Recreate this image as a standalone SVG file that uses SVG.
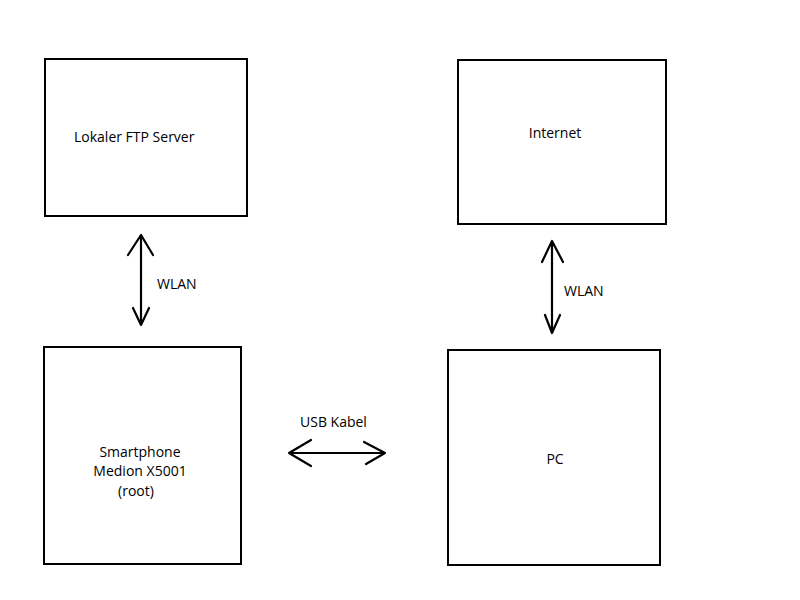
<svg xmlns="http://www.w3.org/2000/svg" width="800" height="600" viewBox="0 0 800 600">
<style>
.box{fill:#fff;stroke:#000;stroke-width:2}
.t{font-family:"Open Sans","Liberation Sans",sans-serif;font-size:14px;fill:#000}
.c{text-anchor:middle}
.ar{fill:none;stroke:#000;stroke-width:2.2;stroke-linecap:round;stroke-linejoin:round}
</style>
<rect width="800" height="600" fill="#fff"/>
<g id="ftp"><rect class="box" x="45" y="59" width="202" height="157"/><text class="t" x="74" y="142">Lokaler FTP Server</text></g>
<g id="internet"><rect class="box" x="458" y="60" width="208" height="164"/><text class="t c" x="555" y="138">Internet</text></g>
<g id="smartphone"><rect class="box" x="44" y="347" width="197" height="217"/><text class="t c" x="140" y="457">Smartphone</text><text class="t c" x="140" y="476">Medion X5001</text><text class="t c" x="136" y="496">(root)</text></g>
<g id="pc"><rect class="box" x="448" y="350" width="212" height="215"/><text class="t c" x="555" y="464">PC</text></g>
<g id="connectors">
<path class="ar" d="M141,235 V325 M128,255 L141,235 L153,255 M133,308 L141,325 L149,308"/>
<path class="ar" d="M552,241 V333 M542,262 L552,241 L563,262 M545,315 L552,333 L560,315"/>
<path class="ar" d="M289,453 H385 M311,440 L289,453 L311,466 M364,442 L385,453 L366,464"/>
<text class="t" x="157" y="289">WLAN</text>
<text class="t" x="564" y="296">WLAN</text>
<text class="t" x="300" y="427">USB Kabel</text>
</g>
</svg>
